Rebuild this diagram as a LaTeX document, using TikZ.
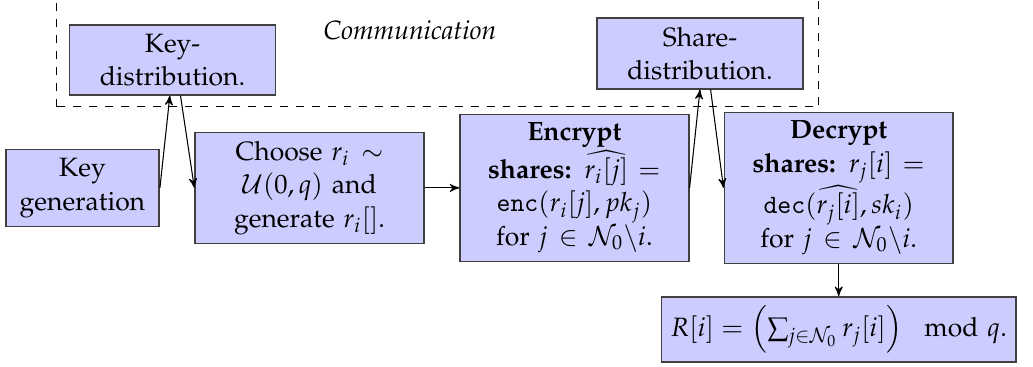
\documentclass[tikz,border=0pt]{standalone}
\usepackage[T1]{fontenc}
\usepackage{amsmath}
\usepackage{mathpazo}
\linespread{1.05}
\usetikzlibrary{arrows,positioning,shapes}

\tikzset{
  block/.style={draw=black!75,fill=blue!20,semithick,align=center,text width=2.8cm},
}

\begin{document}
\begin{tikzpicture}[->,>=stealth',auto,node distance=13pt,thin]
  \useasboundingbox (-31.1pt,-67.5pt) rectangle (358.7pt,70.9pt);

  \node[block,text width=1.8cm] (keygen) at (0,0)           {Key\\generation};
  \node[block]                  (choose)  [right=of keygen] {Choose $r_i \sim$\\ $\mathcal{U}(0,q)$ and\\ generate $r_i[]$.};
  \node[block]                  (encrypt) [right=of choose] {\textbf{Encrypt}\\ \textbf{shares:} $\widehat{r_i[j]} =$\\ $\mathtt{enc}(r_i[j],pk_j)$\\ for $j \in \mathcal{N}_0\backslash i$.};
  \node[block]                  (decrypt) [right=12.8pt of encrypt] {\textbf{Decrypt}\\ \textbf{shares:} $r_j[i] =$\\ $\mathtt{dec}(\widehat{r_j[i]},sk_i)$\\ for $j \in \mathcal{N}_0\backslash i$.};
  \node[block,text width=]      (rsum)    [below=12pt of decrypt] {$R[i] = \left(\sum_{j\in\mathcal{N}_0} r_j[i]\right) \mod q$.};

  \node[block,text width=2.5cm] (keydist)   [above=20pt of keygen, xshift=34pt]  {Key-\\distribution.};
  \node[block,text width=2.5cm] (sharedist) [above=9pt of encrypt, xshift=47.4pt] {Share-\\distribution.};
  \node (comm) at ([shift={(89.6pt,11.3pt)}]keydist.center) {\textit{Communication}};

  \draw[-,dashed] ([shift={(-4.5pt,-4.2pt)}]keydist.south west) rectangle ([shift={(5.5pt,7.4pt)}]sharedist.north east);

  \path (keygen.east)                 edge ([xshift=-1pt]keydist.south)
        ([xshift=3pt]keydist.south)   edge (choose.west)
        (choose)                      edge (encrypt)
        (encrypt.east)                edge (sharedist.south)
        ([xshift=4pt]sharedist.south) edge (decrypt.west)
        (decrypt)                     edge (rsum);
\end{tikzpicture}
\end{document}
